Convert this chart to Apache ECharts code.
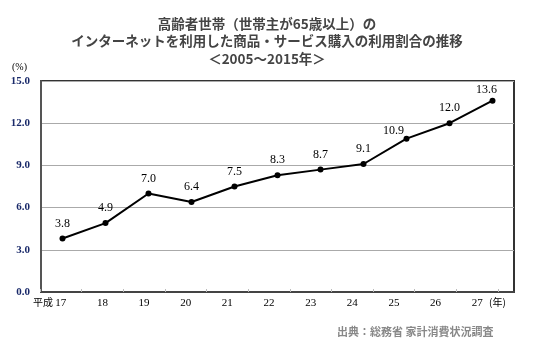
<!DOCTYPE html>
<html><head><meta charset="utf-8">
<script src="https://cdn.jsdelivr.net/npm/echarts@6/dist/echarts.min.js"></script>
<style>html,body{margin:0;padding:0;background:#fff}#c{width:540px;height:346px}</style>
</head><body><div id="c"></div>
<script>
const categories = ['17','18','19','20','21','22','23','24','25','26','27'];
const values = [3.8, 4.9, 7.0, 6.4, 7.5, 8.3, 8.7, 9.1, 10.9, 12.0, 13.6];
const yTicks = [0, 3, 6, 9, 12, 15];
const titleLines = ['高齢者世帯（世帯主が65歳以上）の', 'インターネットを利用した商品・サービス購入の利用割合の推移', '＜2005～2015年＞'];
const sourceText = '出典：総務省 家計消費状況調査';

const chart = echarts.init(document.getElementById('c'), null, {renderer: 'canvas'});
const serif = '"Liberation Serif","DejaVu Serif",serif';
const sans = '"Noto Sans CJK JP","Noto Sans",sans-serif';
// label nudges (styling only) for crowded points
const labelNudge = {8: [-13, 7], 10: [-6, 4]};
const seriesData = values.map((v, i) => labelNudge[i] ? {value: v, label: {offset: labelNudge[i]}} : v);
chart.setOption({
  animation: false,
  backgroundColor: '#fff',
  title: {
    text: titleLines.join('\n'), left: 262, textAlign: 'center', top: 10,
    textStyle: {fontFamily: sans, fontSize: 13.5, fontWeight: 'bold', color: '#444', lineHeight: 17.5}
  },
  graphic: [
    {type: 'rect', shape: {x: 41, y: 81, width: 473, height: 211}, style: {fill: 'none', stroke: '#333', lineWidth: 2}, silent: true, z: 0},
    {type: 'text', left: 12, top: 62, style: {text: '(%)', font: '10px ' + serif, fill: '#000'}},
    {type: 'text', left: 489, top: 297, style: {text: '(年)', font: '10px ' + sans, fill: '#000'}},
    {type: 'text', left: 33, top: 297, style: {text: '平成', font: '10px ' + sans, fill: '#000'}},
    {type: 'text', left: 337, top: 326, style: {text: sourceText, font: 'bold 11px ' + sans, fill: '#888'}}
  ],
  grid: [
    {left: 41, right: 26, top: 81, bottom: 54},
    {left: 40, right: 42, top: 81, bottom: 54}
  ],
  xAxis: [{
    gridIndex: 0, type: 'category', data: categories, boundaryGap: true,
    axisLine: {show: true, lineStyle: {color: '#444', width: 2}},
    axisTick: {show: false},
    axisLabel: {show: false}
  }, {
    gridIndex: 1, type: 'category', data: categories, boundaryGap: true,
    axisLine: {show: false},
    axisTick: {show: true, inside: true, length: 3, lineStyle: {color: '#bbb'}},
    axisLabel: {fontFamily: serif, fontSize: 11, color: '#000', margin: 6}
  }],
  yAxis: [{
    gridIndex: 0, type: 'value', min: yTicks[0], max: yTicks[yTicks.length - 1], interval: 3,
    axisLine: {show: true, lineStyle: {color: '#555', width: 2}},
    axisTick: {show: false},
    axisLabel: {fontFamily: serif, fontSize: 11, color: '#1a2a6a', fontWeight: 'bold', formatter: v => v.toFixed(1), margin: 11},
    splitLine: {show: true, lineStyle: {color: '#aaa', width: 1}}
  }, {
    gridIndex: 1, type: 'value', min: 0, max: 15, show: false, splitLine: {show: false}
  }],
  series: [{
    type: 'line', xAxisIndex: 0, yAxisIndex: 0, data: seriesData, symbol: 'circle', symbolSize: 6,
    lineStyle: {color: '#000', width: 2}, itemStyle: {color: '#000'},
    label: {show: true, position: 'top', distance: 6, fontFamily: serif, fontSize: 12, color: '#000', formatter: p => Number(p.value).toFixed(1)}
  }]
});
</script>
</body></html>
